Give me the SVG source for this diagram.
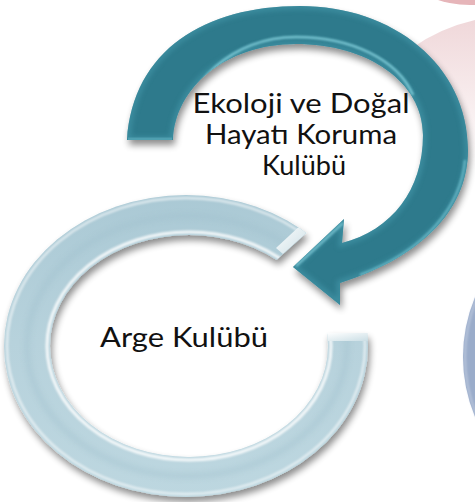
<svg xmlns="http://www.w3.org/2000/svg" width="475" height="502" viewBox="0 0 475 502">
  <style>
    .lbl { font-family: Lato, "Open Sans", "Liberation Sans", sans-serif; font-size: 27px; fill: #111111; text-anchor: middle; }
  </style>
  <defs>
    <filter id="ds" x="-20%" y="-20%" width="140%" height="140%">
      <feGaussianBlur in="SourceAlpha" stdDeviation="3.5"/>
      <feOffset dx="2" dy="5" result="o"/>
      <feComponentTransfer><feFuncA type="linear" slope="0.45"/></feComponentTransfer>
      <feMerge><feMergeNode/><feMergeNode in="SourceGraphic"/></feMerge>
    </filter>
    <filter id="soft" x="-20%" y="-20%" width="140%" height="140%">
      <feGaussianBlur stdDeviation="1.3"/>
    </filter>
    <filter id="soft3" x="-20%" y="-20%" width="140%" height="140%">
      <feGaussianBlur stdDeviation="2.5"/>
    </filter>
    <linearGradient id="ringFill" x1="0" y1="0" x2="0" y2="1">
      <stop offset="0" stop-color="#a9c8d4"/>
      <stop offset="0.5" stop-color="#b7d2dc"/>
      <stop offset="1" stop-color="#bdd7e0"/>
    </linearGradient>
    <linearGradient id="pinkFade" x1="0" y1="0" x2="0" y2="1">
      <stop offset="0" stop-color="#f0d8da"/>
      <stop offset="0.5" stop-color="#f7ebec"/>
      <stop offset="1" stop-color="#ffffff"/>
    </linearGradient>
    <linearGradient id="endFace" x1="0" y1="0" x2="1" y2="1">
      <stop offset="0" stop-color="#ffffff"/>
      <stop offset="1" stop-color="#c9dde4"/>
    </linearGradient>
    <mask id="ringMask" maskUnits="userSpaceOnUse" x="0" y="0" width="475" height="502">
      <ellipse cx="186" cy="346" rx="182" ry="151" fill="#fff"/>
      <ellipse cx="189" cy="346" rx="139" ry="111" fill="#000"/>
      <polygon points="260,275 283,254 312,228 345,199 420,199 420,333 300,333" fill="#000"/>
    </mask>
    <clipPath id="tealClip">
      <path id="tealShape" d="M 127 140 C 133 50 205 6 300 6 C 393 6 468 65 468 150 C 468 205 428 255 340 283 L 340 305 L 293 267 L 344 219 L 342 243 C 392 230 423 190 423 135 C 423 82 368 44 296 44 C 225 44 175 88 173 140 Z"/>
    </clipPath>
  </defs>

  <rect width="475" height="502" fill="#ffffff"/>

  <!-- background decorative shapes (partial rings of neighbouring items) -->
  <g id="bg-pink">
    <circle cx="470" cy="-100" r="105" fill="#e6b5b9"/>
    <path d="M 412 48 Q 440 28 475 20 L 475 170 L 445 170 Z" fill="url(#pinkFade)"/>
  </g>
  <g id="bg-blue">
    <circle cx="618" cy="357" r="155" fill="#9aacca"/>
    <circle cx="618" cy="357" r="153" fill="none" stroke="#b9c6dc" stroke-width="2" filter="url(#soft)"/>
  </g>

  <!-- Arge Kulübü ring -->
  <g id="node-arge">
    <g filter="url(#ds)">
      <rect x="0" y="180" width="420" height="322" fill="url(#ringFill)" mask="url(#ringMask)"/>
    </g>
    <g mask="url(#ringMask)">
      <ellipse cx="189" cy="346" rx="142" ry="114" fill="none" stroke="#ffffff" stroke-width="3" opacity="0.85" filter="url(#soft)"/>
      <ellipse cx="186" cy="346" rx="179" ry="148" fill="none" stroke="#ffffff" stroke-width="2.5" opacity="0.6" filter="url(#soft)"/>
      <ellipse cx="187" cy="346" rx="160" ry="130" fill="none" stroke="#9fbfcc" stroke-width="6" opacity="0.35" filter="url(#soft3)"/>
      <polygon points="283,254 312,228 304,222 276,248" fill="url(#endFace)"/>
      <polygon points="325,333 370,333 369,341 328,341" fill="url(#endFace)"/>
    </g>
    <text class="lbl" x="184" y="347" textLength="168" lengthAdjust="spacingAndGlyphs">Arge Kulübü</text>
  </g>

  <!-- Ekoloji ve Doğal Hayatı Koruma Kulübü circular arrow -->
  <g id="node-ekoloji">
    <use href="#tealShape" fill="#2d7a8c" filter="url(#ds)"/>
    <g clip-path="url(#tealClip)">
      <use href="#tealShape" fill="none" stroke="#4a9fb1" stroke-width="7" opacity="0.5" filter="url(#soft3)"/>
      <path d="M 181 136 C 183 84 232 37 296 37 C 352 37 398 60 413 95" fill="none" stroke="#86d3df" stroke-width="2.5" opacity="0.85" filter="url(#soft)"/>
      <path d="M 465 160 C 461 205 427 250 360 275" fill="none" stroke="#72c2d0" stroke-width="2.5" opacity="0.75" filter="url(#soft)"/>
      <path d="M 296 266 L 343 223" fill="none" stroke="#7fc9d6" stroke-width="2.5" opacity="0.8" filter="url(#soft)"/>
      <path d="M 128 139 L 172 139" fill="none" stroke="#5aa9b9" stroke-width="3" opacity="0.7"/>
    </g>
    <text class="lbl" x="301" y="113" textLength="217" lengthAdjust="spacingAndGlyphs">Ekoloji ve  Doğal</text>
    <text class="lbl" x="301" y="144" textLength="192" lengthAdjust="spacingAndGlyphs">Hayatı Koruma</text>
    <text class="lbl" x="304" y="175" textLength="84" lengthAdjust="spacingAndGlyphs">Kulübü</text>
  </g>

  <g id="connectors"></g>
</svg>
